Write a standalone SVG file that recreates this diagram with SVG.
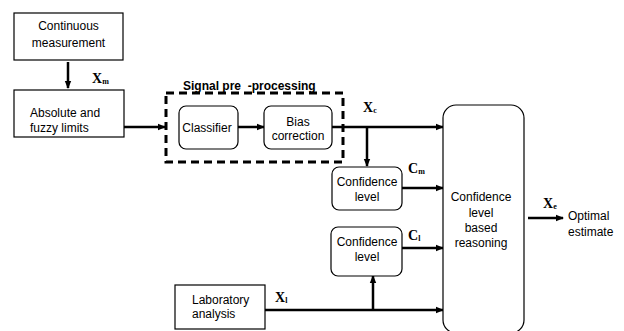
<svg xmlns="http://www.w3.org/2000/svg" width="624" height="331" viewBox="0 0 624 331">
<style>
.t{font-family:"Liberation Sans",Arial,sans-serif;font-size:12px;fill:#000}
.c{text-anchor:middle}
.b{font-weight:bold}
.x{font-family:"Liberation Serif","Times New Roman",serif;font-size:14px;font-weight:bold;fill:#000}
.s{font-size:8px}
.box{fill:#fff;stroke:#000;stroke-width:1.2}
.ln{fill:none;stroke:#000;stroke-width:2.5}
</style>
<defs>
<marker id="ah" viewBox="0 0 8 8" refX="7" refY="4" markerWidth="8" markerHeight="8" markerUnits="userSpaceOnUse" orient="auto">
<path d="M0,0.8 L8,4 L0,7.2 Z" fill="#000"/>
</marker>
</defs>
<rect width="624" height="331" fill="#fff"/>
<g id="connectors">
<path class="ln" d="M68,62 V88" stroke-width="2" marker-end="url(#ah)"/>
<path class="ln" d="M124,127 H165" marker-end="url(#ah)"/>
<path class="ln" d="M238,127 H264" marker-end="url(#ah)"/>
<path class="ln" d="M332,127 H443" marker-end="url(#ah)"/>
<path class="ln" d="M367,127 V166" marker-end="url(#ah)"/>
<path class="ln" d="M402,188 H443" marker-end="url(#ah)"/>
<path class="ln" d="M402,248 H443" marker-end="url(#ah)"/>
<path class="ln" d="M265,310 H443" marker-end="url(#ah)"/>
<path class="ln" d="M373,310 V276" marker-end="url(#ah)"/>
<path class="ln" d="M528,218 H563" marker-end="url(#ah)"/>
</g>
<g id="signal-preprocessing">
<rect x="166" y="93" width="177" height="69" fill="none" stroke="#000" stroke-width="3" stroke-dasharray="8,5"/>
<text class="t b" x="183" y="90">Signal pre&#160; -processing</text>
</g>
<g id="continuous-measurement">
<rect class="box" x="14" y="13" width="109" height="47"/>
<text class="t c" x="68.5" y="30">Continuous</text>
<text class="t c" x="68.5" y="47">measurement</text>
</g>
<g id="label-xm"><text class="x" x="92" y="83">X<tspan class="s" dy="1">m</tspan></text></g>
<g id="absolute-fuzzy">
<rect class="box" x="14" y="90" width="110" height="47"/>
<text class="t" x="30" y="117">Absolute and</text>
<text class="t" x="30" y="132">fuzzy limits</text>
</g>
<g id="classifier">
<rect class="box" x="179" y="106" width="59" height="43" rx="7"/>
<text class="t c" x="207" y="132">Classifier</text>
</g>
<g id="bias-correction">
<rect class="box" x="264" y="106" width="68" height="43" rx="7"/>
<text class="t c" x="298" y="126">Bias</text>
<text class="t c" x="298" y="140">correction</text>
</g>
<g id="label-xc"><text class="x" x="363" y="112">X<tspan class="s" dy="1">c</tspan></text></g>
<g id="confidence-m">
<rect class="box" x="332" y="167" width="70" height="43" rx="7"/>
<text class="t c" x="367" y="186">Confidence</text>
<text class="t c" x="367" y="201">level</text>
</g>
<g id="label-cm"><text class="x" x="408" y="173">C<tspan class="s" dy="1">m</tspan></text></g>
<g id="confidence-l">
<rect class="box" x="331" y="227" width="71" height="49" rx="7"/>
<text class="t c" x="367" y="246">Confidence</text>
<text class="t c" x="367" y="261">level</text>
</g>
<g id="label-cl"><text class="x" x="408" y="240">C<tspan class="s" dy="1">l</tspan></text></g>
<g id="laboratory">
<rect class="box" x="175" y="285" width="90" height="44"/>
<text class="t" x="192" y="304">Laboratory</text>
<text class="t" x="192" y="318">analysis</text>
</g>
<g id="label-xl"><text class="x" x="275" y="302">X<tspan class="s" dy="1">l</tspan></text></g>
<g id="reasoning">
<rect class="box" x="443" y="105" width="81" height="228" rx="13"/>
<text class="t c" x="481" y="201">Confidence</text>
<text class="t c" x="481" y="217">level</text>
<text class="t c" x="481" y="232">based</text>
<text class="t c" x="481" y="247">reasoning</text>
</g>
<g id="label-xe"><text class="x" x="543" y="208">X<tspan class="s" dy="1">e</tspan></text></g>
<g id="optimal-estimate">
<text class="t" x="568" y="220">Optimal</text>
<text class="t" x="568" y="236">estimate</text>
</g>
</svg>
